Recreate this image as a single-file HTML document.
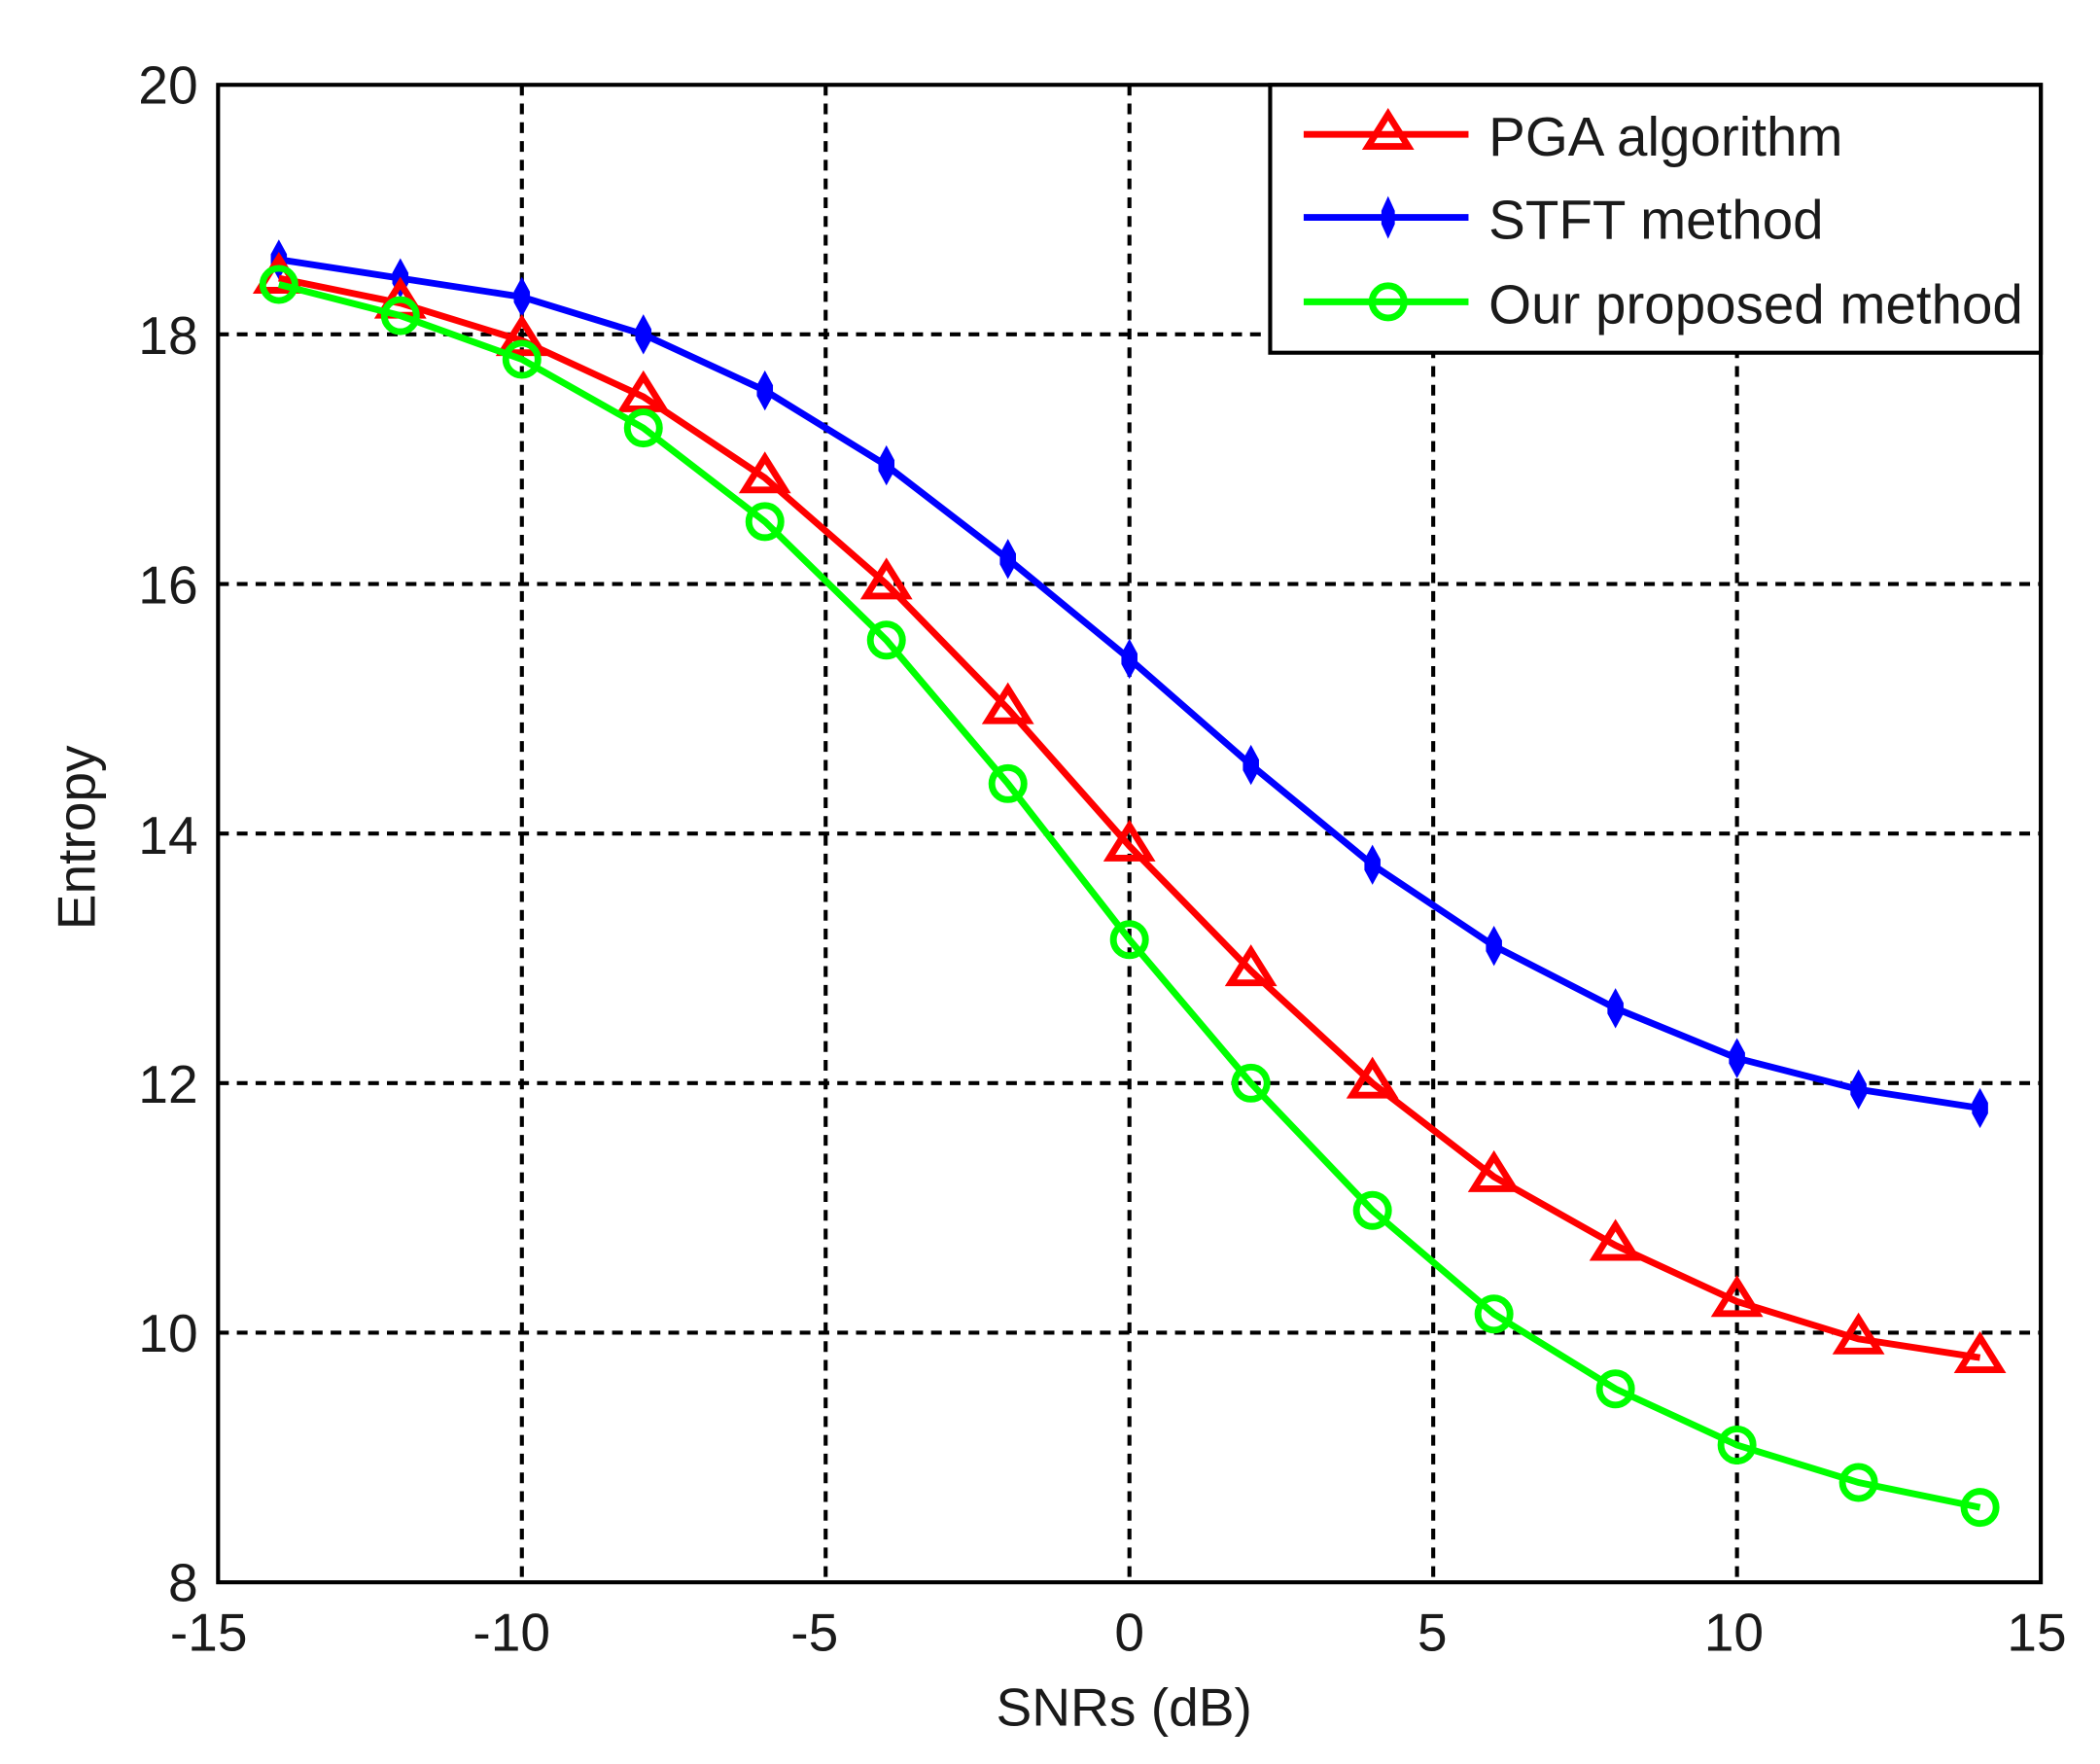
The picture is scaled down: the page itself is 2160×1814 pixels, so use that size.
<!DOCTYPE html>
<html><head><meta charset="utf-8"><style>
html,body{margin:0;padding:0;background:#fff;width:2160px;height:1814px;overflow:hidden}
svg{display:block}
text{font-family:"Liberation Sans",Arial,sans-serif;fill:#1a1a1a}
</style></head><body>
<svg id="s" width="2160" height="1814" viewBox="-0.72 -0.34 1566.9 1317" preserveAspectRatio="none" xmlns="http://www.w3.org/2000/svg">
<rect x="-5" y="-5" width="1580" height="1330" fill="#fff"/>
<g id="grid" stroke="#000" stroke-width="3" stroke-dasharray="8,6"></g>
<rect x="162" y="63" width="1360" height="1118" fill="none" stroke="#000" stroke-width="3"/>
<g font-size="40" text-anchor="end">
<text x="147" y="77">20</text><text x="147" y="264">18</text><text x="147" y="450">16</text>
<text x="147" y="637">14</text><text x="147" y="823">12</text><text x="147" y="1009">10</text><text x="147" y="1195">8</text>
</g>
<g font-size="40" text-anchor="middle">
<text x="155" y="1232">-15</text><text x="381" y="1232">-10</text><text x="607" y="1232">-5</text>
<text x="842" y="1232">0</text><text x="1068" y="1232">5</text><text x="1293" y="1232">10</text><text x="1519" y="1232">15</text>
<text x="838" y="1288">SNRs (dB)</text>
<text transform="translate(70,625) rotate(-90)">Entropy</text>
</g>
<g id="series"></g>
<rect x="947" y="63" width="575" height="200" fill="#fff" stroke="#000" stroke-width="3"/>
<g stroke-width="5" fill="none">
<line x1="972" y1="100" x2="1095" y2="100" stroke="#f00"/>
<polygon points="1035,85 1050,109 1020,109" stroke="#f00"/>
<line x1="972" y1="162" x2="1095" y2="162" stroke="#00f"/>
<line x1="972" y1="225" x2="1095" y2="225" stroke="#0f0"/>
<circle cx="1035" cy="225" r="12" stroke="#0f0"/>
</g>
<path d="M1035,146 L1040,157 L1040,167 L1035,178 L1030,167 L1030,157 Z" fill="#00f"/>
<g font-size="41">
<text x="1110" y="116">PGA algorithm</text>
<text x="1110" y="178">STFT method</text>
<text x="1110" y="241">Our proposed method</text>
</g>
</svg>
<script>
var NS="http://www.w3.org/2000/svg";
function X(v){return 842+v*45.333}
function Y(v){return 1181-(v-8)*93.17}
var g=document.getElementById('grid');
[-10,-5,0,5,10].forEach(function(v){var l=document.createElementNS(NS,'line');l.setAttribute('x1',X(v));l.setAttribute('x2',X(v));l.setAttribute('y1',63);l.setAttribute('y2',1181);g.appendChild(l);});
[10,12,14,16,18].forEach(function(v){var l=document.createElementNS(NS,'line');l.setAttribute('y1',Y(v));l.setAttribute('y2',Y(v));l.setAttribute('x1',162);l.setAttribute('x2',1522);g.appendChild(l);});
var xs=[];for(var i=-14;i<=14;i+=2)xs.push(i);
var S={
b:[18.6,18.45,18.3,18.0,17.55,16.95,16.2,15.4,14.55,13.75,13.1,12.6,12.2,11.95,11.8],
r:[18.45,18.25,17.95,17.5,16.85,16.0,15.0,13.9,12.9,12.0,11.25,10.7,10.25,9.95,9.8],
g:[18.4,18.15,17.8,17.25,16.5,15.55,14.4,13.15,12.0,10.98,10.15,9.55,9.1,8.8,8.6]};
var C={b:'#00f',r:'#f00',g:'#0f0'};
var sg=document.getElementById('series');
['b','r','g'].forEach(function(k){
 var p=document.createElementNS(NS,'polyline');
 p.setAttribute('points',xs.map(function(x,i){return X(x)+','+Y(S[k][i])}).join(' '));
 p.setAttribute('fill','none');p.setAttribute('stroke',C[k]);p.setAttribute('stroke-width','5');sg.appendChild(p);
 xs.forEach(function(x,i){var cx=X(x),cy=Y(S[k][i]),e;
  if(k=='r'){e=document.createElementNS(NS,'polygon');e.setAttribute('points',cx+','+(cy-15)+' '+(cx+15)+','+(cy+9)+' '+(cx-15)+','+(cy+9));e.setAttribute('fill','none');e.setAttribute('stroke',C[k]);e.setAttribute('stroke-width','5');}
  else if(k=='g'){e=document.createElementNS(NS,'circle');e.setAttribute('cx',cx);e.setAttribute('cy',cy);e.setAttribute('r',12);e.setAttribute('fill','none');e.setAttribute('stroke',C[k]);e.setAttribute('stroke-width','5');}
  else{e=document.createElementNS(NS,'path');e.setAttribute('d','M'+cx+','+(cy-15)+' L'+(cx+6)+','+(cy-4)+' L'+(cx+6)+','+(cy+4)+' L'+cx+','+(cy+15)+' L'+(cx-6)+','+(cy+4)+' L'+(cx-6)+','+(cy-4)+' Z');e.setAttribute('fill',C[k]);}
  sg.appendChild(e);});
});
</script>
</body></html>
